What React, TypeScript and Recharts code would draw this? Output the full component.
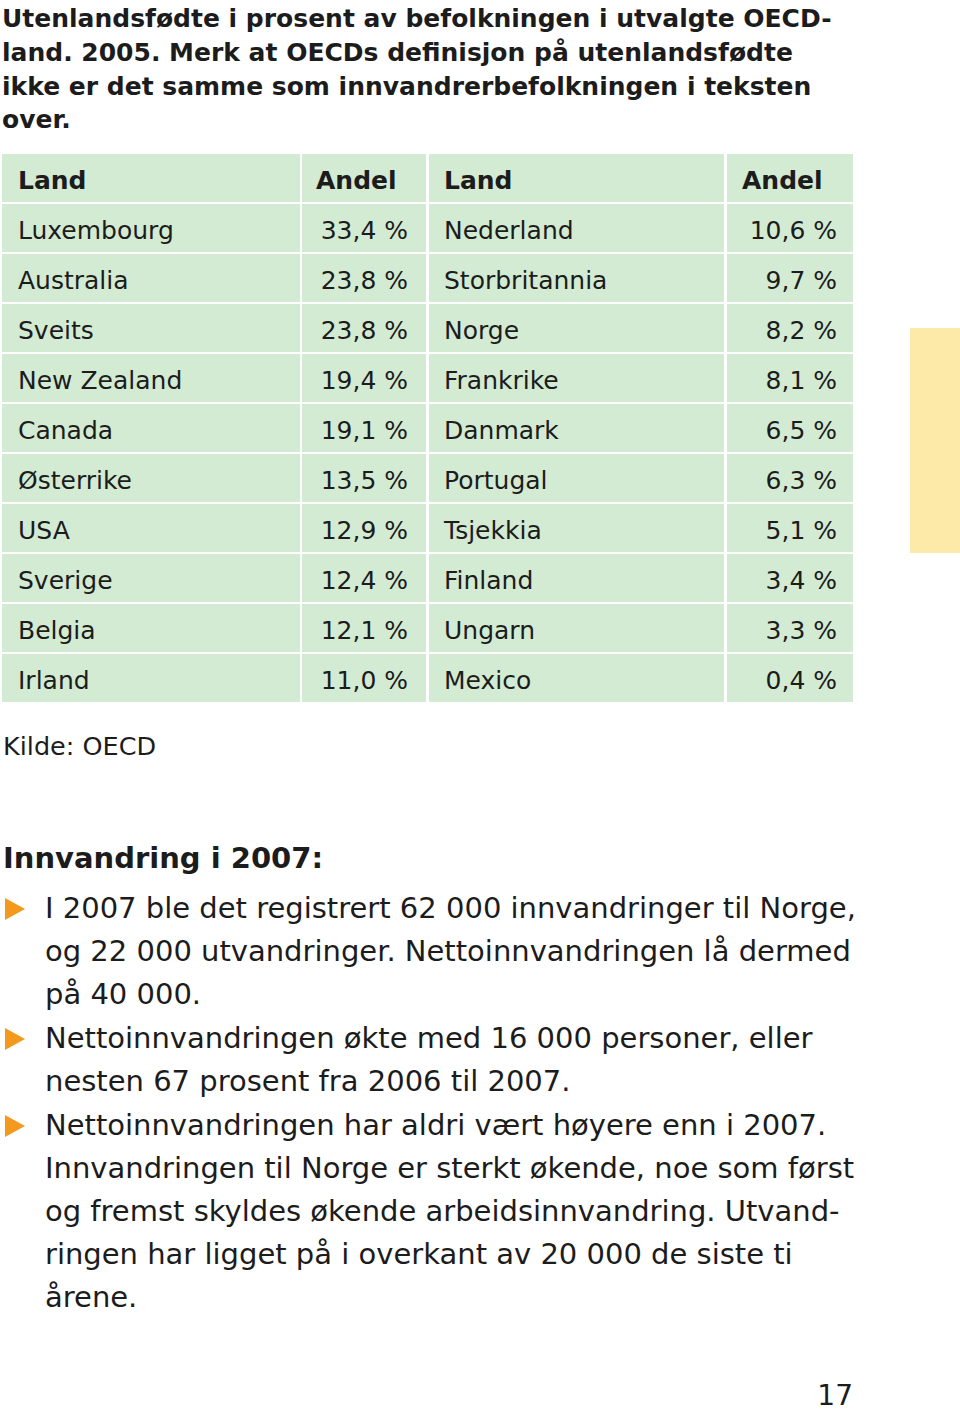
import React from 'react';
import { BarChart, Bar, XAxis, YAxis } from 'recharts';

const headers = ['Land', 'Andel', 'Land', 'Andel'];
const countriesLeft = ['Luxembourg', 'Australia', 'Sveits', 'New Zealand', 'Canada', 'Østerrike', 'USA', 'Sverige', 'Belgia', 'Irland'];
const sharesLeft = [33.4, 23.8, 23.8, 19.4, 19.1, 13.5, 12.9, 12.4, 12.1, 11.0];
const countriesRight = ['Nederland', 'Storbritannia', 'Norge', 'Frankrike', 'Danmark', 'Portugal', 'Tsjekkia', 'Finland', 'Ungarn', 'Mexico'];
const sharesRight = [10.6, 9.7, 8.2, 8.1, 6.5, 6.3, 5.1, 3.4, 3.3, 0.4];

const titleLines = [
  'Utenlandsfødte i prosent av befolkningen i utvalgte OECD-',
  'land. 2005. Merk at OECDs definisjon på utenlandsfødte',
  'ikke er det samme som innvandrerbefolkningen i teksten',
  'over.',
];
const source = 'Kilde: OECD';
const heading = 'Innvandring i 2007:';
const bodyLines = [
  { t: 'I 2007 ble det registrert 62 000 innvandringer til Norge,', b: true },
  { t: 'og 22 000 utvandringer. Nettoinnvandringen lå dermed', b: false },
  { t: 'på 40 000.', b: false },
  { t: 'Nettoinnvandringen økte med 16 000 personer, eller', b: true },
  { t: 'nesten 67 prosent fra 2006 til 2007.', b: false },
  { t: 'Nettoinnvandringen har aldri vært høyere enn i 2007.', b: true },
  { t: 'Innvandringen til Norge er sterkt økende, noe som først', b: false },
  { t: 'og fremst skyldes økende arbeidsinnvandring. Utvand-', b: false },
  { t: 'ringen har ligget på i overkant av 20 000 de siste ti', b: false },
  { t: 'årene.', b: false },
];
const pageNumber = '17';

const fmt = (v: number) => v.toFixed(1).replace('.', ',') + ' %';

const rows = [
  { key: 'h', header: true, cells: headers, span: 1 },
  ...countriesLeft.map((c, i) => ({
    key: 'r' + i,
    header: false,
    cells: [c, fmt(sharesLeft[i]), countriesRight[i], fmt(sharesRight[i])],
    span: 1,
  })),
];

const FONT = '"DejaVu Sans", Verdana, sans-serif';
const GREEN = '#d3ebd3';
const TEXT = '#1c1c1c';

// column layout (relative to the table's left edge)
const COLS = [
  { x0: 0, x1: 298, pad: 16, align: 'left' },
  { x0: 300, x1: 424, pad: 18, align: 'right', hpad: 14 },
  { x0: 427, x1: 722, pad: 15, align: 'left' },
  { x0: 725, x1: 851, pad: 16, align: 'right', hpad: 15 },
];

const RowShape = (props: any) => {
  const { x, y, height, payload } = props;
  const h = height - 2;
  return (
    <g>
      {COLS.map((col, i) => {
        const isRight = col.align === 'right' && !payload.header;
        const tx = isRight ? x + col.x1 - col.pad : x + col.x0 + (payload.header && col.hpad !== undefined ? col.hpad : col.pad);
        return (
          <g key={i}>
            <rect x={x + col.x0} y={y} width={col.x1 - col.x0} height={h} fill={GREEN} />
            <text
              x={tx}
              y={y + 35}
              textAnchor={isRight ? 'end' : 'start'}
              fontFamily={FONT}
              fontSize={25}
              fontWeight={payload.header ? 'bold' : 'normal'}
              fill={TEXT}
            >
              {payload.cells[i]}
            </text>
          </g>
        );
      })}
    </g>
  );
};

export default function App() {
  const titleBase = [27, 61, 95, 128];
  const bodyBase = [918, 961, 1004, 1048, 1091, 1135, 1178, 1221, 1264, 1307];
  return (
    <div style={{ position: 'absolute', left: 0, top: 0, width: 960, height: 1413, background: '#fff' }}>
      <svg width={960} height={1413} style={{ position: 'absolute', left: 0, top: 0 }}>
        <rect x={910} y={328} width={50} height={225} fill="#fde9a8" />
        {titleLines.map((t, i) => (
          <text key={i} x={2} y={titleBase[i]} fontFamily={FONT} fontWeight="bold" fontSize={25} fill={TEXT}>
            {t}
          </text>
        ))}
        <text x={3} y={755} fontFamily={FONT} fontSize={25.5} fill={TEXT}>{source}</text>
        <text x={3} y={868} fontFamily={FONT} fontWeight="bold" fontSize={29} fill={TEXT}>{heading}</text>
        {bodyLines.map((l, i) => (
          <g key={i}>
            {l.b && (
              <polygon
                points={`5,${bodyBase[i] - 20} 25,${bodyBase[i] - 9} 5,${bodyBase[i] + 2}`}
                fill="#f39a1e"
              />
            )}
            <text x={45} y={bodyBase[i]} fontFamily={FONT} fontSize={29} fill={TEXT}>
              {l.t}
            </text>
          </g>
        ))}
        <text x={853} y={1405} textAnchor="end" fontFamily={FONT} fontSize={28} fill={TEXT}>{pageNumber}</text>
      </svg>
      <div style={{ position: 'absolute', left: 2, top: 154 }}>
        <BarChart
          width={851}
          height={550}
          data={rows}
          layout="vertical"
          margin={{ top: 0, right: 0, bottom: 0, left: 0 }}
          barCategoryGap={0}
        >
          <XAxis type="number" domain={[0, 1]} hide />
          <YAxis type="category" dataKey="key" hide />
          <Bar dataKey="span" isAnimationActive={false} shape={RowShape} />
        </BarChart>
      </div>
    </div>
  );
}
